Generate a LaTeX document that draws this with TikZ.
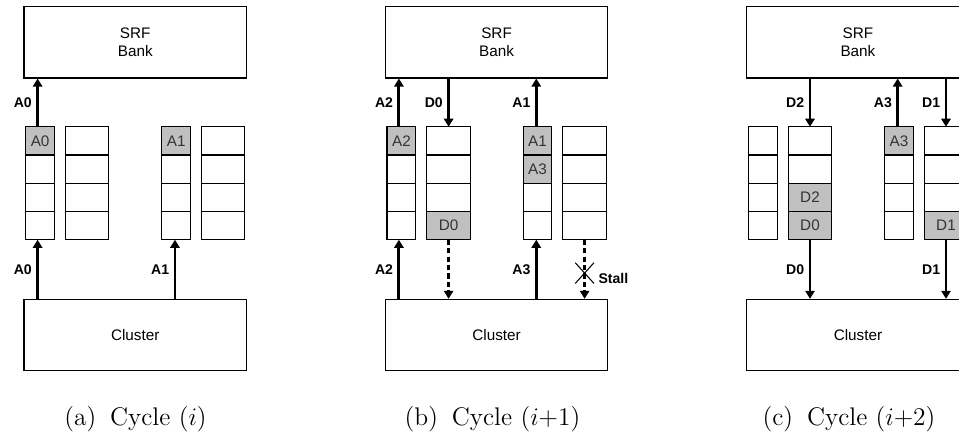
\documentclass[tikz,border=0pt]{standalone}
\usepackage{fontspec}
\newfontfamily\arialfont{Liberation Sans}
\usetikzlibrary{arrows.meta}
\usetikzlibrary{calc}

\definecolor{cellgray}{RGB}{192,192,192}
\definecolor{celltext}{RGB}{51,51,51}

\tikzset{
	blockbox/.style={draw, line width=0.6pt, minimum width=4.45cm, minimum height=1.426cm, align=center, font=\arialfont\fontsize{8.7}{10.2}\selectfont},
	cellbox/.style={draw, line width=0.6pt, minimum height=0.565cm, inner sep=0pt, outer sep=0pt, text=celltext, font=\arialfont\fontsize{8.7}{10}\selectfont},
	narrowcell/.style={cellbox, minimum width=0.576cm},
	widecell/.style={cellbox, minimum width=0.866cm},
	flow/.style={line width=1.65pt, -{Triangle[length=4.6pt,width=5.3pt]}},
	stalled/.style={flow, dash pattern=on 3pt off 1.8pt},
	stallmark/.style={minimum width=0.36cm, minimum height=0.4cm, inner sep=0pt},
	lbl/.style={font=\arialfont\bfseries\fontsize{8}{9}\selectfont, inner sep=0pt},
	subcap/.style={font=\fontsize{14.5}{17}\selectfont, anchor=base},
}

\newcommand{\panelbase}[2]{%
	\node[blockbox] (#1-srf) at (#2+111.25, 42.35) {SRF\\Bank};
	\node[blockbox] (#1-cl) at (#2+111.25, 335) {Cluster};
	\foreach \rw in {1,...,4} {
		\node[narrowcell] (#1-n1-\rw) at (#2+16.1, {112.6+28.25*\rw}) {};
		\node[widecell] (#1-w1-\rw) at (#2+63.3, {112.6+28.25*\rw}) {};
		\node[narrowcell] (#1-n2-\rw) at (#2+152.2, {112.6+28.25*\rw}) {};
		\node[widecell] (#1-w2-\rw) at (#2+199.3, {112.6+28.25*\rw}) {};
	}
	\coordinate (#1-t1) at ([xshift=-0.05cm]#1-n1-1.north);
	\coordinate (#1-b1) at ([xshift=-0.05cm]#1-n1-4.south);
	\coordinate (#1-t2) at (#1-w1-1.north);
	\coordinate (#1-b2) at (#1-w1-4.south);
	\coordinate (#1-t3) at ([xshift=-0.025cm]#1-n2-1.north);
	\coordinate (#1-b3) at ([xshift=-0.025cm]#1-n2-4.south);
	\coordinate (#1-t4) at (#1-w2-1.north);
	\coordinate (#1-b4) at (#1-w2-4.south);
}
\newcommand{\holds}[3]{\node[#1, fill=cellgray] (#2-v) at (#2) {#3};}

\begin{document}
\begin{tikzpicture}[x=0.02cm, y=-0.02cm]
	\clip (0,0) rectangle (959,434);

	\panelbase{a}{24}
	\holds{narrowcell}{a-n1-1}{A0}
	\holds{narrowcell}{a-n2-1}{A1}
	\draw[flow] (a-t1) -- node[lbl, left=2.5pt] (a-l1) {A0} (a-t1 |- a-srf.south);
	\draw[flow] (a-b1 |- a-cl.north) -- node[lbl, left=2.5pt] (a-l2) {A0} (a-b1);
	\draw[flow] (a-b3 |- a-cl.north) -- node[lbl, left=2.5pt] (a-l3) {A1} (a-b3);
	\node[subcap] (a-cap) at (135.5, 425) {(a)\hspace{0.55em}Cycle ($i$)};

	\panelbase{b}{385.3}
	\holds{narrowcell}{b-n1-1}{A2}
	\holds{widecell}{b-w1-4}{D0}
	\holds{narrowcell}{b-n2-1}{A1}
	\holds{narrowcell}{b-n2-2}{A3}
	\draw[flow] (b-t1) -- node[lbl, left=2.5pt] (b-l1) {A2} (b-t1 |- b-srf.south);
	\draw[flow] (b-t2 |- b-srf.south) -- node[lbl, left=2.5pt] (b-l2) {D0} (b-t2);
	\draw[flow] (b-t3) -- node[lbl, left=2.5pt] (b-l3) {A1} (b-t3 |- b-srf.south);
	\draw[flow] (b-b1 |- b-cl.north) -- node[lbl, left=2.5pt] (b-l4) {A2} (b-b1);
	\draw[stalled] (b-b2) -- (b-b2 |- b-cl.north);
	\draw[flow] (b-b3 |- b-cl.north) -- node[lbl, left=2.5pt] (b-l5) {A3} (b-b3);
	\draw[stalled] (b-b4) -- (b-b4 |- b-cl.north);
	\node[stallmark] (b-x) at ($(b-b4)!0.564!(b-b4 |- b-cl.north)$) {};
	\draw[line width=0.6pt] (b-x.north west) -- (b-x.south east) (b-x.north east) -- (b-x.south west);
	\node[lbl, anchor=base west, xshift=2.4pt] (b-stall) at (b-x.south east) {Stall};
	\node[subcap] (b-cap) at (492.5, 425) {(b)\hspace{0.55em}Cycle ($i$+1)};

	\panelbase{c}{746.7}
	\holds{widecell}{c-w1-3}{D2}
	\holds{widecell}{c-w1-4}{D0}
	\holds{narrowcell}{c-n2-1}{A3}
	\holds{widecell}{c-w2-4}{D1}
	\draw[flow] (c-t2 |- c-srf.south) -- node[lbl, left=2.5pt] (c-l1) {D2} (c-t2);
	\draw[flow] (c-t3) -- node[lbl, left=2.5pt] (c-l2) {A3} (c-t3 |- c-srf.south);
	\draw[flow] (c-t4 |- c-srf.south) -- node[lbl, left=2.5pt] (c-l3) {D1} (c-t4);
	\draw[flow] (c-b2) -- node[lbl, left=2.5pt] (c-l4) {D0} (c-b2 |- c-cl.north);
	\draw[flow] (c-b4) -- node[lbl, left=2.5pt] (c-l5) {D1} (c-b4 |- c-cl.north);
	\node[subcap] (c-cap) at (849, 425) {(c)\hspace{0.55em}Cycle ($i$+2)};
\end{tikzpicture}
\end{document}
